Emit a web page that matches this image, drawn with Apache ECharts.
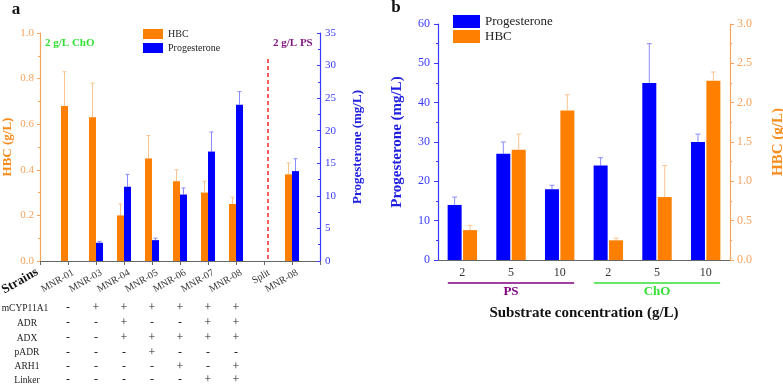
<!DOCTYPE html>
<html>
<head>
<meta charset="utf-8">
<script src="https://cdn.jsdelivr.net/npm/echarts@6/dist/echarts.min.js"></script>
<style>
  html, body { margin: 0; padding: 0; background: #fff; }
  #chart { width: 783px; height: 385px; }
</style>
</head>
<body>
<div id="chart"></div>
<script>
// panel a
const strainsA = ['MNR-01', 'MNR-03', 'MNR-04', 'MNR-05', 'MNR-06', 'MNR-07', 'MNR-08', 'Split', 'MNR-08']
const hbcA = [0.68, 0.63, 0.20, 0.45, 0.35, 0.30, 0.25, null, 0.38]
const hbcErrA = [0.15, 0.15, 0.05, 0.10, 0.05, 0.05, 0.03, null, 0.05]
const progA = [null, 2.8, 11.4, 3.2, 10.2, 16.8, 24.0, null, 13.8]
const progErrA = [null, 0.2, 1.9, 0.3, 1.0, 3.0, 2.0, null, 1.9]
const rowNames = ['mCYP11A1', 'ADR', 'ADX', 'pADR', 'ARH1', 'Linker']
const rows = [
  ['-', '+', '+', '+', '+', '+', '+'],
  ['-', '-', '+', '-', '-', '+', '+'],
  ['-', '-', '+', '+', '+', '+', '+'],
  ['-', '-', '-', '+', '-', '-', '-'],
  ['-', '-', '-', '-', '+', '-', '+'],
  ['-', '-', '-', '-', '-', '+', '+']
]

// panel b
const concB = ['2', '5', '10', '2', '5', '10']
const substratesB = ['PS', 'ChO']
const progB = [14, 27, 18, 24, 45, 30]
const progErrB = [2, 3, 1, 2, 10, 2]
const hbcB = [0.38, 1.40, 1.90, 0.25, 0.80, 2.28]
const hbcErrB = [0.06, 0.20, 0.20, 0.03, 0.40, 0.11]

const ORANGE = '#ff8000'
const BLUE = '#0000ff'
const FONT = 'Liberation Serif, Times New Roman, serif'

const pad = arr => [null, ...arr, null]
const catsA = ['', ...strainsA, '']

function errData(vals, errs, shift) {
  const out = []
  vals.forEach((v, i) => {
    if (v != null) out.push([i + shift, v, v + errs[i]])
  })
  return out
}

function errorBars(offset, cap, color) {
  return function(params, api) {
    const base = api.coord([api.value(0), api.value(1)])
    const top = api.coord([api.value(0), api.value(2)])
    const x = base[0] + offset
    const style = { stroke: color, lineWidth: 1 }
    return {
      type: 'group',
      children: [
        { type: 'line', shape: { x1: x, y1: base[1], x2: x, y2: top[1] }, style },
        { type: 'line', shape: { x1: x - cap, y1: top[1], x2: x + cap, y2: top[1] }, style }
      ]
    }
  }
}

const rowCenters = [308, 323, 338, 352.5, 366.5, 380]

const tableAxes = rows.map((row, r) => ({
  type: 'category',
  gridIndex: 0,
  boundaryGap: false,
  position: 'bottom',
  offset: rowCenters[r] - 261 - 6,
  data: ['', ...row, '', '', ''],
  axisLine: { show: false },
  axisTick: { show: false },
  axisLabel: { interval: 0, margin: 0, fontSize: 12, color: '#222', fontFamily: FONT }
}))

const chart = echarts.init(document.getElementById('chart'))

chart.setOption({
  animation: false,
  textStyle: { fontFamily: FONT },
  grid: [
    { left: 40, top: 33, width: 280, height: 228, outerBoundsMode: 'none' },
    { left: 438, top: 24, width: 292, height: 236, outerBoundsMode: 'none' }
  ],
  legend: [
    {
      data: ['HBC', 'Progesterone'],
      left: 143, top: 29, orient: 'vertical', padding: 0,
      itemWidth: 20, itemHeight: 10, itemGap: 4, icon: 'rect',
      textStyle: { fontSize: 10, color: '#222', fontFamily: FONT }
    },
    {
      data: ['Progesterone', 'HBC'],
      left: 453, top: 15, orient: 'vertical', padding: 0,
      itemWidth: 27, itemHeight: 13, itemGap: 2, icon: 'rect',
      textStyle: { fontSize: 13, color: '#222', fontFamily: FONT }
    }
  ],
  xAxis: [
    {
      type: 'category',
      gridIndex: 0,
      boundaryGap: false,
      data: catsA,
      axisLine: { lineStyle: { color: '#666', width: 1.2 } },
      axisTick: { length: 4, lineStyle: { color: '#666' } },
      axisLabel: {
        interval: 0, rotate: 30, margin: 14, padding: [0, -6, 0, 0],
        fontSize: 10, color: '#333', fontFamily: FONT
      }
    },
    ...tableAxes,
    {
      type: 'category',
      gridIndex: 1,
      data: concB,
      name: 'Substrate concentration (g/L)',
      nameLocation: 'middle',
      nameGap: 46,
      nameTextStyle: { fontSize: 15, fontWeight: 'bold', color: '#111', fontFamily: FONT },
      axisLine: { lineStyle: { color: '#666', width: 1.2 } },
      axisTick: { alignWithLabel: true, length: 4, lineStyle: { color: '#666' } },
      axisLabel: { interval: 0, margin: 7, fontSize: 12, color: '#333', fontFamily: FONT }
    },
    {
      type: 'category',
      gridIndex: 1,
      data: concB,
      axisLine: { show: false },
      axisTick: { length: 2, lineStyle: { color: '#666' } },
      axisLabel: { show: false }
    }
  ],
  yAxis: [
    {
      type: 'value', gridIndex: 0, min: 0, max: 1, interval: 0.2,
      name: 'HBC (g/L)', nameLocation: 'middle', nameGap: 26, nameRotate: 90,
      nameTextStyle: { fontSize: 13, fontWeight: 'bold', color: '#f98a1c', fontFamily: FONT },
      axisLine: { show: true, lineStyle: { color: '#f7a35c', width: 1.2 } },
      axisTick: { show: true, length: 3, lineStyle: { color: '#f7a35c' } },
      minorTick: { show: true, splitNumber: 2, length: 2, lineStyle: { color: '#f7a35c' } },
      splitLine: { show: false },
      axisLabel: { margin: 6, fontSize: 11, color: '#f7a35c', fontFamily: FONT, formatter: v => v.toFixed(1) }
    },
    {
      type: 'value', gridIndex: 0, position: 'right', min: 0, max: 35, interval: 5,
      name: 'Progesterone (mg/L)', nameLocation: 'middle', nameGap: 31, nameRotate: 90,
      nameTextStyle: { fontSize: 13, fontWeight: 'bold', color: '#2020e0', fontFamily: FONT, padding: [0, 0, 20, 0] },
      axisLine: { show: true, lineStyle: { color: '#3a3aff', width: 1.2 } },
      axisTick: { show: true, inside: true, length: 3, lineStyle: { color: '#3a3aff' } },
      minorTick: { show: true, splitNumber: 2, length: 2, lineStyle: { color: '#3a3aff' } },
      splitLine: { show: false },
      axisLabel: { margin: 5, fontSize: 11, color: '#3a3aff', fontFamily: FONT }
    },
    {
      type: 'value', gridIndex: 1, min: 0, max: 60, interval: 10,
      name: 'Progesterone (mg/L)', nameLocation: 'middle', nameGap: 13, nameRotate: 90,
      nameTextStyle: { fontSize: 15, fontWeight: 'bold', color: '#2020e0', fontFamily: FONT, padding: [0, 0, 20, 0] },
      axisLine: { show: true, lineStyle: { color: '#3a3aff', width: 1.2 } },
      axisTick: { show: true, length: 4, lineStyle: { color: '#3a3aff' } },
      minorTick: { show: true, splitNumber: 2, length: 2, lineStyle: { color: '#3a3aff' } },
      splitLine: { show: false },
      axisLabel: { margin: 8, fontSize: 12, color: '#3a3aff', fontFamily: FONT }
    },
    {
      type: 'value', gridIndex: 1, position: 'right', min: 0, max: 3, interval: 0.5,
      name: 'HBC (g/L)', nameLocation: 'middle', nameGap: 41, nameRotate: 90,
      nameTextStyle: { fontSize: 15, fontWeight: 'bold', color: '#f98a1c', fontFamily: FONT, padding: [0, 0, 20, 0] },
      axisLine: { show: true, lineStyle: { color: '#f7a35c', width: 1.2 } },
      axisTick: { show: true, length: 4, lineStyle: { color: '#f7a35c' } },
      minorTick: { show: true, splitNumber: 2, length: 2, lineStyle: { color: '#f7a35c' } },
      splitLine: { show: false },
      axisLabel: { margin: 7, fontSize: 12, color: '#f7a35c', fontFamily: FONT, formatter: v => v.toFixed(1) }
    }
  ],
  series: [
    {
      name: 'HBC', type: 'bar', xAxisIndex: 0, yAxisIndex: 0,
      data: pad(hbcA), barWidth: 7, barGap: 0, itemStyle: { color: ORANGE }
    },
    {
      name: 'Progesterone', type: 'bar', xAxisIndex: 0, yAxisIndex: 1,
      data: pad(progA), barWidth: 7, barGap: 0, itemStyle: { color: BLUE },
      markLine: {
        silent: true, symbol: 'none', label: { show: false },
        emphasis: { disabled: true },
        lineStyle: { color: '#ee2a2a', opacity: 1, type: [4, 3], width: 1.5 },
        data: [[{ coord: [8, 31] }, { coord: [8, 0] }]]
      }
    },
    {
      name: 'errHBCa', type: 'custom', xAxisIndex: 0, yAxisIndex: 0,
      renderItem: errorBars(-3.5, 2, '#f9c48f'), encode: { x: 0, y: [1, 2] },
      data: errData(hbcA, hbcErrA, 1), z: 1
    },
    {
      name: 'errProgA', type: 'custom', xAxisIndex: 0, yAxisIndex: 1,
      renderItem: errorBars(3.5, 2, '#8a8aff'), encode: { x: 0, y: [1, 2] },
      data: errData(progA, progErrA, 1), z: 1
    },
    {
      name: 'Progesterone', type: 'bar', xAxisIndex: 7, yAxisIndex: 2,
      data: progB, barWidth: 14, barGap: '10%', itemStyle: { color: BLUE }
    },
    {
      name: 'HBC', type: 'bar', xAxisIndex: 7, yAxisIndex: 3,
      data: hbcB, barWidth: 14, barGap: '10%', itemStyle: { color: ORANGE }
    },
    {
      name: 'errProgB', type: 'custom', xAxisIndex: 7, yAxisIndex: 2,
      renderItem: errorBars(-7.7, 2.5, '#8a8aff'), encode: { x: 0, y: [1, 2] },
      data: errData(progB, progErrB, 0), z: 1
    },
    {
      name: 'errHBCb', type: 'custom', xAxisIndex: 7, yAxisIndex: 3,
      renderItem: errorBars(7.7, 2.5, '#f9c48f'), encode: { x: 0, y: [1, 2] },
      data: errData(hbcB, hbcErrB, 0), z: 1
    }
  ]
})

// brackets under panel b and free texts
const px = i => chart.convertToPixel({ xAxisIndex: 7 }, i)
const groupColors = ['#800080', '#33e033']
const brackets = []
substratesB.forEach((name, g) => {
  const x1 = px(g * 3) - 14.5
  const x2 = px(g * 3 + 2) + 14.5
  brackets.push({
    type: 'line', shape: { x1: x1, y1: 283, x2: x2, y2: 283 },
    style: { stroke: groupColors[g], lineWidth: 1.5 }
  })
  brackets.push({
    type: 'text', x: (x1 + x2) / 2, y: 292,
    style: { text: name, fill: groupColors[g], font: 'bold 13px ' + FONT, align: 'center', verticalAlign: 'middle' }
  })
})

const labels = rowNames.map((n, r) => ({
  type: 'text', x: r === 0 ? 25 : 27, y: rowCenters[r],
  style: { text: n, fill: '#222', font: '9.5px ' + FONT, align: 'center', verticalAlign: 'middle' }
}))

chart.setOption({
  graphic: [
    ...brackets,
    ...labels,
    { type: 'text', x: 16, y: 10, style: { text: 'a', fill: '#111', font: 'bold 17px ' + FONT, align: 'center', verticalAlign: 'middle' } },
    { type: 'text', x: 396, y: 8, style: { text: 'b', fill: '#111', font: 'bold 17px ' + FONT, align: 'center', verticalAlign: 'middle' } },
    { type: 'text', x: 45, y: 43, style: { text: '2 g/L ChO', fill: '#33e033', font: 'bold 11px ' + FONT, verticalAlign: 'middle' } },
    { type: 'text', x: 273, y: 43, style: { text: '2 g/L PS', fill: '#801a80', font: 'bold 11px ' + FONT, verticalAlign: 'middle' } },
    {
      type: 'text', x: 20, y: 281, rotation: Math.PI / 6,
      style: { text: 'Strains', fill: '#111', font: 'bold 13px ' + FONT, align: 'center', verticalAlign: 'middle' }
    }
  ]
})
</script>
</body>
</html>
